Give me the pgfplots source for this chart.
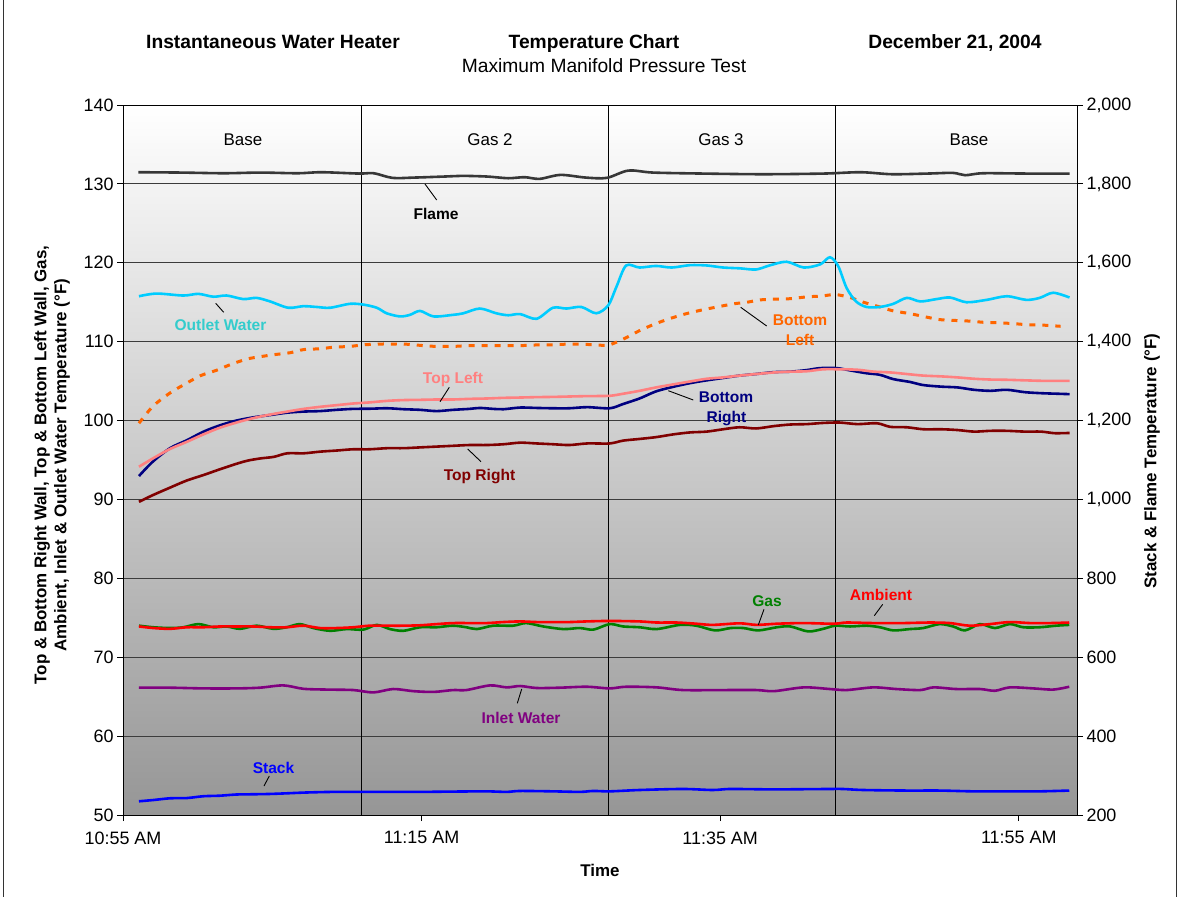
\documentclass[border=0pt]{standalone}
\usepackage{pgfplots}
\pgfplotsset{compat=1.18}
\usepackage{fontspec}
\setmainfont{Liberation Sans}
\definecolor{bgbot}{RGB}{150,150,150}
\definecolor{gridc}{RGB}{60,60,60}
\definecolor{cflame}{RGB}{55,55,55}
\definecolor{coutlet}{RGB}{0,204,255}
\definecolor{coutletlab}{RGB}{51,204,204}
\definecolor{cbl}{RGB}{255,102,0}
\definecolor{ctl}{RGB}{255,128,128}
\definecolor{cbr}{RGB}{0,0,128}
\definecolor{ctr}{RGB}{128,0,0}
\definecolor{cgas}{RGB}{0,128,0}
\definecolor{camb}{RGB}{255,0,0}
\definecolor{cinlet}{RGB}{128,0,128}
\definecolor{cstack}{RGB}{0,0,255}
\newcommand\tickf{\fontsize{18}{21}\selectfont}
\newcommand\secf{\fontsize{17}{20}\selectfont}
\newcommand\labf{\fontsize{15.6}{18}\selectfont\bfseries}
\newcommand\titf{\fontsize{19.3}{23}\selectfont}
\begin{document}
\begin{tikzpicture}[x=1bp,y=1bp]
\path[use as bounding box] (0,0) rectangle (1180,-897);
\begin{axis}[
  at={(123bp,-815bp)}, anchor=south west,
  scale only axis, width=954bp, height=710bp,
  xmin=0, xmax=63.9, ymin=50, ymax=140,
  axis background/.style={top color=white, bottom color=bgbot},
  ytick={50,60,...,140},
  xtick={0,20,40,60},
  xticklabels={10:55 AM,11:15 AM,11:35 AM,11:55 AM},
  ymajorgrids, major grid style={line width=0.8bp, color=gridc},
  tick align=outside, xtick pos=bottom, ytick pos=left,
  major tick length=6bp,
  tick style={black, line width=0.8bp},
  axis line style={black, line width=1bp},
  ticklabel style={font=\tickf},
  xticklabel style={yshift=-7bp},
  /pgf/number format/assume math mode=true,
  every axis plot/.append style={line width=2.6bp, smooth},
]
\addplot[black, line width=1bp, sharp plot] coordinates {(16.0,50) (16.0,140)};
\addplot[black, line width=1bp, sharp plot] coordinates {(32.55,50) (32.55,140)};
\addplot[black, line width=1bp, sharp plot] coordinates {(47.7,50) (47.7,140)};
% Inlet Water
\addplot[cinlet] coordinates {(1.07,66.14)(3.15,66.14)(5.38,66.05)(7.6,66.05)(9.17,66.14)(10.74,66.43)(12.08,66.0)(13.65,65.9)(15.43,65.84)(16.77,65.54)(18.1,65.97)(19.45,65.7)(20.8,65.6)(22.1,65.84)(23.0,65.84)(24.58,66.43)(25.7,66.18)(26.6,66.35)(27.7,66.1)(29.27,66.14)(31.06,66.26)(32.6,66.05)(33.7,66.26)(35.75,66.18)(37.5,65.84)(40.2,65.84)(42.44,65.84)(43.6,65.7)(45.6,66.18)(47.35,65.97)(48.47,65.84)(50.26,66.18)(51.8,65.97)(53.4,65.84)(54.3,66.18)(55.8,65.97)(57.4,65.97)(58.4,65.75)(59.4,66.18)(60.97,66.05)(62.3,65.9)(63.38,66.26)};
% Gas
\addplot[cgas] coordinates {(1.07,74.0)(2.03,73.8)(3.15,73.7)(4.04,73.8)(5.05,74.2)(6.05,73.8)(6.94,73.9)(7.84,73.6)(8.95,74.0)(10.07,73.6)(10.96,73.8)(11.85,74.2)(12.75,73.7)(13.87,73.35)(14.98,73.57)(16.1,73.5)(17.0,74.1)(17.88,73.57)(18.78,73.35)(19.9,73.8)(21.0,73.8)(22.1,74.0)(23.0,73.8)(23.7,73.57)(24.8,74.0)(26.14,74.0)(27.0,74.33)(28.15,73.9)(29.5,73.57)(30.6,73.7)(31.5,73.5)(32.6,74.2)(33.5,73.9)(34.6,73.8)(35.75,73.57)(37.3,74.1)(38.4,74.0)(39.65,73.4)(40.7,73.7)(41.55,73.7)(42.55,73.4)(43.8,73.8)(44.7,73.9)(45.9,73.27)(46.9,73.6)(47.7,74.0)(48.7,73.9)(49.8,74.0)(50.7,73.8)(51.6,73.4)(52.7,73.57)(53.6,73.7)(54.7,74.2)(55.6,73.9)(56.4,73.4)(57.4,74.2)(58.4,73.7)(59.4,74.2)(60.3,73.8)(61.4,73.8)(62.5,74.0)(63.38,74.1)};
% Ambient
\addplot[camb] coordinates {(1.07,73.9)(2.03,73.7)(3.15,73.6)(4.27,73.8)(5.38,73.8)(6.5,73.9)(7.6,73.9)(8.73,73.9)(9.85,73.8)(10.96,73.8)(12.08,74.0)(13.2,73.7)(14.3,73.7)(15.43,73.8)(16.5,74.0)(17.66,74.0)(18.78,74.0)(19.9,74.05)(21.0,74.2)(22.1,74.33)(23.24,74.33)(24.36,74.33)(25.47,74.46)(26.6,74.54)(27.7,74.46)(28.8,74.46)(29.94,74.46)(31.06,74.54)(32.6,74.6)(34.6,74.54)(35.75,74.4)(37.1,74.4)(38.4,74.25)(39.5,74.1)(41.3,74.3)(42.44,74.1)(43.8,74.25)(45.6,74.33)(47.6,74.25)(48.47,74.4)(50.26,74.33)(52.27,74.33)(54.05,74.4)(55.4,74.33)(56.7,74.0)(58.07,74.2)(59.4,74.46)(60.75,74.33)(62.09,74.33)(63.38,74.4)};
% Top Right
\addplot[ctr] coordinates {(1.07,89.7)(2.0,90.55)(3.15,91.5)(4.27,92.4)(5.4,93.1)(6.3,93.7)(7.4,94.4)(8.3,94.9)(9.2,95.2)(10.1,95.4)(11.0,95.85)(12.1,95.85)(13.2,96.06)(14.3,96.2)(15.4,96.36)(16.5,96.36)(17.7,96.5)(18.8,96.5)(19.9,96.6)(21.0,96.7)(22.1,96.8)(23.2,96.9)(24.4,96.9)(25.5,97.0)(26.6,97.2)(27.7,97.1)(28.8,97.0)(29.9,96.9)(31.1,97.1)(32.6,97.1)(33.5,97.46)(34.6,97.67)(35.7,97.9)(36.9,98.26)(38.0,98.5)(39.1,98.6)(40.2,98.9)(41.3,99.15)(42.4,99.0)(43.6,99.3)(44.7,99.5)(45.8,99.55)(46.9,99.7)(48.0,99.75)(49.2,99.55)(50.5,99.66)(51.4,99.2)(52.5,99.15)(53.6,98.9)(54.8,98.9)(55.9,98.8)(57.0,98.6)(58.1,98.7)(59.2,98.7)(60.4,98.6)(61.5,98.6)(62.4,98.4)(63.4,98.43)};
% Bottom Right
\addplot[cbr] coordinates {(1.07,92.97)(2.0,94.8)(3.15,96.5)(4.27,97.5)(5.4,98.6)(6.5,99.4)(7.6,100.0)(8.7,100.4)(9.85,100.7)(11.0,101.0)(12.1,101.14)(13.2,101.2)(14.3,101.36)(15.4,101.48)(16.5,101.5)(17.7,101.56)(18.8,101.44)(19.9,101.36)(21.0,101.2)(22.1,101.36)(23.2,101.48)(23.9,101.6)(24.8,101.48)(25.5,101.44)(26.6,101.65)(27.7,101.6)(28.8,101.56)(29.9,101.56)(31.1,101.7)(32.6,101.56)(33.5,102.1)(34.6,102.8)(35.7,103.7)(36.9,104.3)(38.0,104.75)(39.1,105.1)(40.2,105.4)(41.3,105.7)(42.4,105.9)(43.6,106.14)(44.7,106.2)(45.8,106.4)(46.7,106.65)(47.8,106.65)(48.7,106.36)(49.8,106.0)(50.7,105.8)(51.6,105.25)(52.7,104.9)(53.6,104.5)(54.8,104.3)(55.9,104.2)(57.0,103.9)(58.1,103.77)(59.2,103.9)(60.4,103.6)(61.5,103.47)(62.6,103.4)(63.4,103.35)};
% Top Left
\addplot[ctl] coordinates {(1.07,94.15)(2.0,95.2)(3.15,96.4)(4.27,97.3)(5.4,98.26)(6.5,99.1)(7.6,99.75)(8.7,100.3)(9.85,100.76)(11.0,101.14)(12.1,101.48)(13.2,101.74)(14.3,101.95)(15.4,102.16)(16.5,102.3)(17.7,102.5)(18.8,102.6)(19.9,102.63)(21.0,102.67)(22.1,102.67)(23.2,102.75)(24.4,102.8)(25.5,102.88)(26.6,102.92)(27.7,102.97)(28.8,103.0)(29.9,103.05)(31.1,103.1)(32.6,103.14)(33.5,103.4)(34.6,103.77)(35.7,104.2)(36.9,104.6)(38.0,104.96)(39.1,105.3)(40.2,105.47)(41.3,105.7)(42.4,105.9)(43.6,106.1)(44.7,106.2)(45.8,106.25)(46.9,106.5)(48.0,106.5)(49.2,106.44)(50.3,106.2)(51.4,106.1)(52.5,105.9)(53.6,105.7)(54.8,105.6)(55.9,105.47)(57.0,105.3)(58.1,105.2)(59.2,105.17)(60.4,105.1)(61.5,105.04)(62.6,105.04)(63.4,105.04)};
% Bottom Left
\addplot[cbl, line width=3bp, dash pattern=on 6bp off 7bp] coordinates {(1.07,99.66)(2.0,101.8)(3.15,103.5)(4.27,104.75)(5.2,105.7)(6.3,106.4)(7.2,107.1)(8.3,107.8)(9.2,108.1)(10.1,108.35)(11.2,108.6)(12.1,109.0)(13.2,109.1)(14.1,109.3)(15.2,109.4)(16.1,109.6)(17.2,109.7)(18.3,109.7)(19.2,109.66)(20.1,109.5)(21.0,109.4)(22.1,109.4)(23.2,109.5)(24.4,109.5)(25.5,109.5)(26.6,109.5)(27.9,109.6)(28.8,109.6)(29.9,109.7)(31.1,109.65)(32.0,109.55)(32.6,109.6)(33.7,110.5)(34.6,111.4)(35.7,112.3)(36.75,113.0)(37.75,113.56)(38.9,114.07)(39.8,114.4)(40.9,114.8)(41.8,115.0)(42.7,115.3)(43.8,115.4)(44.7,115.45)(45.9,115.7)(46.7,115.76)(47.7,115.97)(48.7,115.6)(49.6,115.0)(50.7,114.4)(51.6,113.9)(52.7,113.56)(53.6,113.2)(54.7,112.8)(55.6,112.7)(56.8,112.6)(57.6,112.46)(58.5,112.4)(59.6,112.3)(60.5,112.16)(61.6,112.1)(62.8,111.95)};
% Outlet Water
\addplot[coutlet] coordinates {(1.07,115.76)(2.25,116.1)(4.04,115.85)(5.05,116.06)(6.05,115.7)(6.94,115.85)(8.06,115.4)(8.95,115.55)(9.85,115.1)(11.07,114.3)(12.08,114.5)(12.97,114.4)(13.87,114.3)(15.2,114.8)(16.1,114.7)(17.0,114.3)(17.66,113.6)(18.55,113.2)(19.22,113.4)(19.9,113.9)(20.8,113.2)(22.1,113.4)(22.8,113.6)(23.9,114.2)(25.0,113.6)(25.8,113.35)(26.6,113.5)(27.7,112.9)(28.8,114.3)(29.7,114.2)(30.7,114.4)(31.7,113.6)(32.5,114.6)(33.06,117.0)(33.7,119.66)(34.6,119.4)(35.7,119.6)(36.75,119.4)(37.98,119.7)(39.1,119.66)(40.2,119.4)(41.3,119.3)(42.4,119.15)(43.3,119.66)(44.45,120.13)(45.6,119.4)(46.7,119.8)(47.35,120.7)(47.9,119.6)(48.47,116.8)(49.1,115.1)(49.8,114.4)(50.7,114.4)(51.6,114.8)(52.5,115.55)(53.4,115.1)(54.5,115.4)(55.4,115.6)(56.5,115.0)(57.85,115.3)(59.2,115.76)(60.5,115.3)(61.4,115.55)(62.3,116.2)(63.4,115.6)};
\end{axis}
\begin{axis}[
  at={(123bp,-815bp)}, anchor=south west,
  scale only axis, width=954bp, height=710bp,
  xmin=0, xmax=63.9, ymin=200, ymax=2000,
  axis x line=none, axis y line*=right,
  ytick={200,400,...,2000},
  tick align=outside, major tick length=6bp,
  tick style={black, line width=0.8bp},
  axis line style={black, line width=1bp},
  ticklabel style={font=\tickf},
  /pgf/number format/1000 sep={,},
  /pgf/number format/assume math mode=true,
  every axis plot/.append style={line width=2.6bp, smooth},
]
% Stack
\addplot[cstack] coordinates {(1.07,234.8)(2.03,238)(3.15,242.4)(4.27,243)(5.38,247.6)(6.5,249)(7.6,252)(8.73,252.6)(9.85,253.4)(10.96,255)(12.08,256.8)(13.2,258)(14.3,258.6)(17.66,258.6)(19.9,258.6)(22.1,259.4)(24.36,260)(25.7,258.6)(26.6,261)(28.8,260)(30.6,258.6)(31.5,261)(32.6,260)(34.6,263.4)(37.5,266)(39.5,263.4)(40.7,266)(43.6,265)(47.35,266)(48.2,266)(49.6,263.4)(52.5,262)(54.7,262)(56.96,260)(59.4,260)(61.4,260)(63.38,262)};
% Flame
\addplot[cflame] coordinates {(1.03,1829.6)(3.9,1828.7)(6.76,1827)(9.2,1828.7)(11.7,1827)(13.3,1829.6)(15.8,1826.2)(16.8,1827)(18.05,1815.2)(19.5,1816)(21.5,1818.6)(22.8,1820.3)(24.4,1818.6)(25.8,1814.4)(26.9,1817)(27.9,1812.7)(29.3,1822.8)(31.0,1816)(32.4,1815.2)(33.85,1833.8)(35.5,1828.7)(38.8,1826.2)(42.9,1824.5)(46.95,1826.2)(49.4,1829.6)(51.5,1824.5)(53.9,1826.2)(55.6,1827.9)(56.4,1822)(57.6,1827)(60.5,1826.2)(63.4,1826.2)};
\end{axis}
% frame
\draw[line width=0.8bp, black!80] (3.5,0) -- (3.5,-897) (1176,0) -- (1176,-897);
% titles
\node[anchor=base, font=\titf\bfseries] at (273,-48.5) {Instantaneous Water Heater};
\node[anchor=base, font=\titf\bfseries] at (594,-48.5) {Temperature Chart};
\node[anchor=base, font=\titf\bfseries] at (955,-48.5) {December 21, 2004};
\node[anchor=base, font=\titf] at (604,-72) {Maximum Manifold Pressure Test};
% section labels
\node[anchor=base, font=\secf] at (243,-145) {Base};
\node[anchor=base, font=\secf] at (490,-145.5) {Gas 2};
\node[anchor=base, font=\secf] at (721,-145) {Gas 3};
\node[anchor=base, font=\secf] at (969,-145) {Base};
% axis titles
\node[font=\secf\bfseries] at (600,-870.5) {Time};
\node[rotate=90, font=\secf\bfseries] at (42,-465) {Top \& Bottom Right Wall, Top \& Bottom Left Wall, Gas,};
\node[rotate=90, font=\secf\bfseries] at (62,-465) {Ambient, Inlet \& Outlet Water Temperature (°F)};
\node[rotate=90, font=\secf\bfseries] at (1152,-461) {Stack \& Flame Temperature (°F)};
% series labels
\node[anchor=base, font=\labf, text=black] at (436,-219) {Flame};
\node[anchor=base, font=\labf, text=coutletlab] at (220.5,-330) {Outlet Water};
\node[anchor=base, font=\labf, text=ctl] at (453,-383) {Top Left};
\node[anchor=base, font=\labf, text=ctr] at (479.5,-480) {Top Right};
\node[anchor=base, font=\labf, text=cbl] at (800,-325) {Bottom};
\node[anchor=base, font=\labf, text=cbl] at (800,-345) {Left};
\node[anchor=base, font=\labf, text=cbr] at (726,-402.7) {Bottom};
\node[anchor=base, font=\labf, text=cbr] at (726.5,-422) {Right};
\node[anchor=base, font=\labf, text=cgas] at (767,-606.7) {Gas};
\node[anchor=base, font=\labf, text=camb] at (881,-600.7) {Ambient};
\node[anchor=base, font=\labf, text=cinlet] at (521,-723) {Inlet Water};
\node[anchor=base, font=\labf, text=cstack] at (273.5,-773) {Stack};
% leader lines
\draw[black, line width=0.9bp] (425,-184) -- (436.7,-200);
\draw[black, line width=0.9bp] (215.7,-303.3) -- (223.7,-312.3);
\draw[black, line width=0.9bp] (449.3,-387.3) -- (440,-401.7);
\draw[black, line width=0.9bp] (467.7,-449) -- (481,-461.7);
\draw[black, line width=0.9bp] (740.7,-307.3) -- (766.7,-326);
\draw[black, line width=0.9bp] (668.3,-390.7) -- (693.3,-400);
\draw[black, line width=0.9bp] (764,-609.3) -- (758.3,-625);
\draw[black, line width=0.9bp] (882.7,-604.3) -- (874.3,-615.7);
\draw[black, line width=0.9bp] (521.7,-689) -- (517.3,-703.3);
\draw[black, line width=0.9bp] (269.3,-776) -- (264,-786);
\end{tikzpicture}
\end{document}
